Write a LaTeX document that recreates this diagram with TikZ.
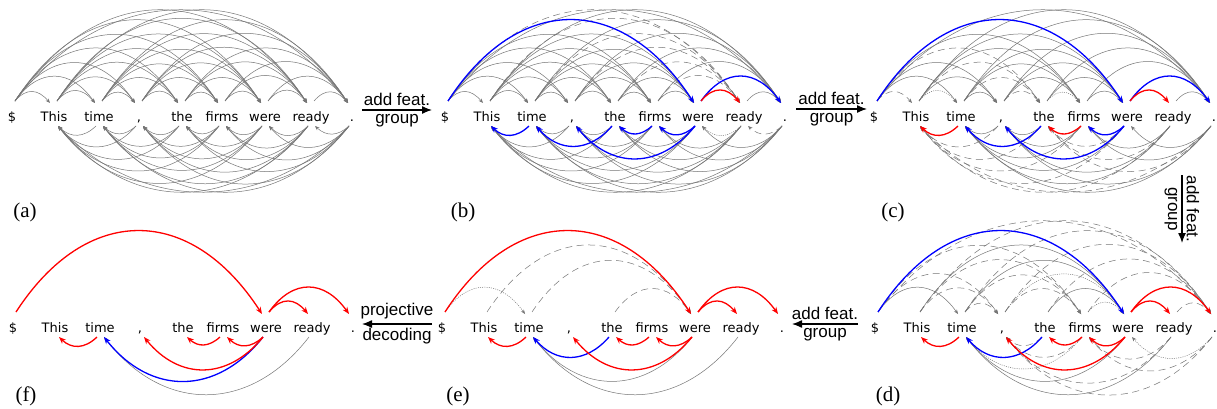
\documentclass[tikz,border=0pt]{standalone}
\usepackage{fontspec}
\setmainfont{Liberation Serif}
\newfontfamily\wordfont{DejaVu Sans}
\newfontfamily\labfont{Liberation Sans}
\usetikzlibrary{arrows.meta}
\definecolor{arcgray}{RGB}{118,118,118}
\definecolor{arcblue}{RGB}{0,0,255}
\definecolor{arcred}{RGB}{255,0,0}
\def\wx{{0,42,87,127,170,210,253,299,340}}

\tikzset{
 word/.style={font=\wordfont\fontsize{13}{13}\selectfont, inner sep=0pt, anchor=base},
 gr/.style={draw=arcgray, line width=0.5pt, -{Stealth[length=4.5pt,width=3.5pt]}},
 dsh/.style={gr, dash pattern=on 7pt off 4.5pt},
 dtt/.style={gr, dash pattern=on 1pt off 1.2pt},
 bl/.style={draw=arcblue, line width=1.3pt, -{Stealth[length=7pt,width=5.5pt]}},
 rd/.style={draw=arcred, line width=1.3pt, -{Stealth[length=7pt,width=5.5pt]}},
 flow/.style={draw=black, line width=1.3pt, -{Latex[length=10pt,width=8pt]}},
 flowlab/.style={font=\labfont\fontsize{17}{17}\selectfont, inner sep=0pt},
 panlab/.style={font=\fontsize{21}{21}\selectfont, inner sep=0pt},
}

\newcommand\wordrow[3]{%
  \foreach \ii/\ww in {0/\$,1/This,2/time,3/{,},4/the,5/firms,6/were,7/ready,8/.}{%
    \pgfmathsetmacro\wxx{#2+\wx[\ii]}
    \node[word] (#1-\ii) at (\wxx,#3) {\ww};
    \coordinate (#1-\ii-to) at (\wxx+3,#3+20);
    \coordinate (#1-\ii-ti) at (\wxx-4,#3+18);
    \coordinate (#1-\ii-bo) at (\wxx-3,#3-5);
    \coordinate (#1-\ii-bi) at (\wxx+4,#3-5);
  }}

\newcommand\darc[4]{%
  \pgfmathtruncatemacro\arcTop{(#2<#3)}%
  \pgfmathsetmacro\arcS{abs(\wx[#3]-\wx[#2])}%
  \ifnum\arcTop=1
    \pgfmathsetmacro\arcH{min(0.34*\arcS-4,92)}%
    \pgfmathsetmacro\arcCx{0.28*\arcS}%
    \pgfmathsetmacro\arcCy{4*\arcH/3}%
    \draw[#4] (#1-#2-to) .. controls +(\arcCx,\arcCy) and +(-\arcCx,\arcCy) .. (#1-#3-ti);
  \else
    \pgfmathsetmacro\arcH{min(0.29*\arcS-4,66)}%
    \pgfmathsetmacro\arcCx{0.28*\arcS}%
    \pgfmathsetmacro\arcCy{4*\arcH/3}%
    \draw[#4] (#1-#2-bo) .. controls +(-\arcCx,-\arcCy) and +(\arcCx,-\arcCy) .. (#1-#3-bi);
  \fi}

\makeatletter
\newcommand\grayrest[2]{%
  \foreach \hh in {0,...,8}{\foreach \dd in {1,...,8}{%
    \ifnum\hh=\dd\relax\else
      \edef\arcTmp{\noexpand\in@{,\hh/\dd,}{,#2,}}\arcTmp
      \ifin@\else\darc{#1}{\hh}{\dd}{gr}\fi
    \fi}}}
\makeatother

\newcommand\arcset[3]{%
  \foreach \hh/\dd in #3{\edef\arcTmp{\noexpand\darc{#1}{\hh}{\dd}{#2}}\arcTmp}}

% panel (b)
\def\bRed{6/7}
\def\bBlue{0/6,6/8,2/1,4/2,6/3,5/4,6/5}
\def\bDash{0/7,1/7,2/7,3/7,4/7,5/7,8/7}
\def\bDot{7/6}
% panel (c)
\def\cGone{0/7,1/7,2/7,3/7,4/7,5/7,8/7,7/6}
\def\cRed{6/7,2/1,5/4}
\def\cBlue{0/6,6/8,4/2,6/3,6/5}
\def\cDash{0/1,3/1,4/1,5/1,6/1,7/1,8/1,0/4,1/4,2/4,3/4,6/4,7/4,8/4}
\def\cDot{1/2,4/5}
% panel (d)
\def\dRed{6/7,2/1,5/4,6/8,6/3,6/5}
\def\dBlue{0/6,4/2}
\def\dDash{0/8,1/8,2/8,3/8,4/8,5/8,7/8,0/3,1/3,2/3,4/3,5/3,7/3,8/3,0/5,1/5,2/5,3/5,7/5,8/5}
\def\dDot{8/6,3/6,5/6,5/2}
\def\dGray{0/2,1/6,2/6,4/6,6/2,7/2}
% panel (e)
\def\eRed{0/6,6/7,6/8,2/1,5/4,6/3,6/5}
\def\eBlue{4/2}
\def\eDash{1/6,2/6,4/6}
\def\eDot{0/2}
\def\eGray{6/2,7/2}
% panel (f)
\def\fRed{0/6,6/7,6/8,2/1,5/4,6/3,6/5}
\def\fBlue{6/2}
\def\fGray{7/2}

\begin{document}
\begin{tikzpicture}[x=1pt,y=1pt]
\path[use as bounding box, fill=white] (0,0) rectangle (1217,408);

\wordrow{a}{12}{287}
\wordrow{b}{445}{287}
\wordrow{c}{874}{287}
\wordrow{f}{13}{76}
\wordrow{e}{442}{76}
\wordrow{d}{875}{76}

% (a)
\grayrest{a}{}
% (b)
\grayrest{b}{\bRed,\bBlue,\bDash,\bDot}
\arcset{b}{dsh}{\bDash}
\arcset{b}{dtt}{\bDot}
\arcset{b}{bl}{\bBlue}
\arcset{b}{rd}{\bRed}
% (c)
\grayrest{c}{\cGone,\cRed,\cBlue,\cDash,\cDot}
\arcset{c}{dsh}{\cDash}
\arcset{c}{dtt}{\cDot}
\arcset{c}{bl}{\cBlue}
\arcset{c}{rd}{\cRed}
% (d)
\arcset{d}{gr}{\dGray}
\arcset{d}{dsh}{\dDash}
\arcset{d}{dtt}{\dDot}
\arcset{d}{bl}{\dBlue}
\arcset{d}{rd}{\dRed}
% (e)
\arcset{e}{gr}{\eGray}
\arcset{e}{dsh}{\eDash}
\arcset{e}{dtt}{\eDot}
\arcset{e}{bl}{\eBlue}
\arcset{e}{rd}{\eRed}
% (f)
\arcset{f}{gr}{\fGray}
\arcset{f}{bl}{\fBlue}
\arcset{f}{rd}{\fRed}

% panel labels
\node[panlab] (la) at (25,196) {(a)};
\node[panlab] (lb) at (463,196) {(b)};
\node[panlab] (lc) at (893,196) {(c)};
\node[panlab] (lf) at (26,12) {(f)};
\node[panlab] (le) at (458,12) {(e)};
\node[panlab] (ld) at (888,12) {(d)};

% flow arrows
\coordinate (ab1) at (362,298); \coordinate (ab2) at (432,298);
\draw[flow] (ab1) -- (ab2) node[flowlab, midway, above=4pt] {add feat.} node[flowlab, midway, below=4pt] {group};
\coordinate (bc1) at (796,299); \coordinate (bc2) at (867,299);
\draw[flow] (bc1) -- (bc2) node[flowlab, midway, above=4pt] {add feat.} node[flowlab, midway, below=4pt] {group};
\coordinate (cd1) at (1182,233); \coordinate (cd2) at (1182,165);
\draw[flow] (cd1) -- (cd2) node[flowlab, midway, sloped, above=4pt] {add feat.} node[flowlab, midway, sloped, below=4pt] {group};
\coordinate (de1) at (858,84); \coordinate (de2) at (792,84);
\draw[flow] (de1) -- (de2) node[flowlab, midway, above=4pt] {add feat.} node[flowlab, midway, below=4pt] {group};
\coordinate (ef1) at (432,84); \coordinate (ef2) at (362,84);
\draw[flow] (ef1) -- (ef2) node[flowlab, midway, above=4pt] {projective} node[flowlab, midway, below=4pt] {decoding};
\end{tikzpicture}
\end{document}
